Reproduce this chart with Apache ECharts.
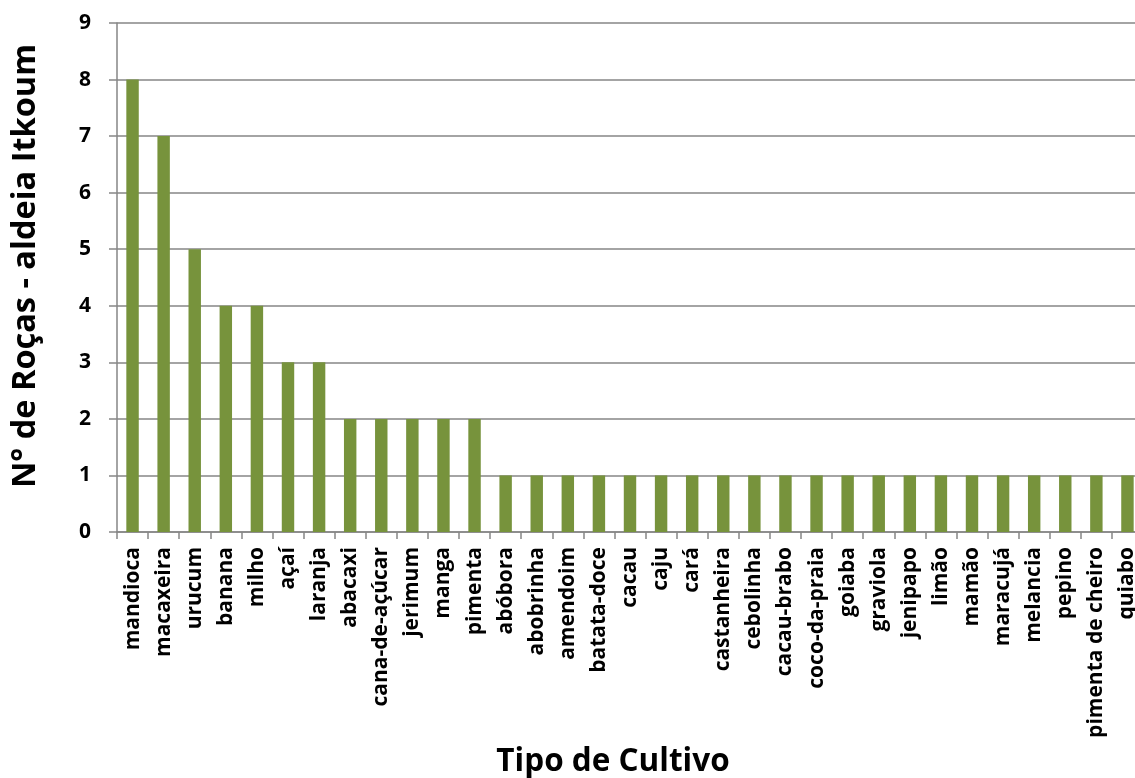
<!DOCTYPE html>
<html>
<head>
<meta charset="utf-8">
<script src="https://cdn.jsdelivr.net/npm/echarts@6/dist/echarts.min.js"></script>
<style>
html,body{margin:0;padding:0;background:#fff;overflow:hidden;}
#chart{width:1150px;height:778px;}
</style>
</head>
<body>
<div id="chart"></div>
<script>
const categories = ["mandioca","macaxeira","urucum","banana","milho","açaí","laranja","abacaxi","cana-de-açúcar","jerimum","manga","pimenta","abóbora","abobrinha","amendoim","batata-doce","cacau","caju","cará","castanheira","cebolinha","cacau-brabo","coco-da-praia","goiaba","graviola","jenipapo","limão","mamão","maracujá","melancia","pepino","pimenta de cheiro","quiabo"];
const values = [8,7,5,4,4,3,3,2,2,2,2,2,1,1,1,1,1,1,1,1,1,1,1,1,1,1,1,1,1,1,1,1,1];
const yTitle = "N° de Roças - aldeia Itkoum";
const xTitle = "Tipo de Cultivo";

const chart = echarts.init(document.getElementById('chart'));
const gray = '#868686';
chart.setOption({
  animation: false,
  grid: {left: 117, right: 7, top: 23, bottom: 246, containLabel: false},
  xAxis: {
    type: 'category',
    data: categories,
    axisLine: {lineStyle: {color: gray, width: 1.5}},
    axisTick: {show: true, length: 7, lineStyle: {color: gray, width: 1.5}},
    axisLabel: {
      interval: 0, rotate: 90, margin: 15,
      fontFamily: 'Open Sans', fontWeight: 'bold', fontSize: 21, color: '#000'
    },
    splitLine: {show: false}
  },
  yAxis: {
    type: 'value', min: 0, max: 9, interval: 1,
    axisLine: {show: true, lineStyle: {color: gray, width: 1.5}},
    axisTick: {show: true, length: 8, lineStyle: {color: gray, width: 1.5}},
    axisLabel: {margin: 26, fontFamily: 'Open Sans', fontWeight: 'bold', fontSize: 21, color: '#000'},
    splitLine: {show: true, lineStyle: {color: gray, width: 1.5}}
  },
  series: [{
    type: 'bar',
    data: values,
    barWidth: '40%',
    itemStyle: {color: '#77933C'}
  }],
  graphic: [
    {
      type: 'text', x: 26, y: 266, rotation: Math.PI / 2,
      style: {text: yTitle, textAlign: 'center', textVerticalAlign: 'middle',
        font: 'bold 32.5px "Open Sans"', fill: '#000'}
    },
    {
      type: 'text', x: 613, y: 762,
      style: {text: xTitle, textAlign: 'center', textVerticalAlign: 'middle',
        font: 'bold 31.5px "Open Sans"', fill: '#000'}
    }
  ]
});
</script>
</body>
</html>
